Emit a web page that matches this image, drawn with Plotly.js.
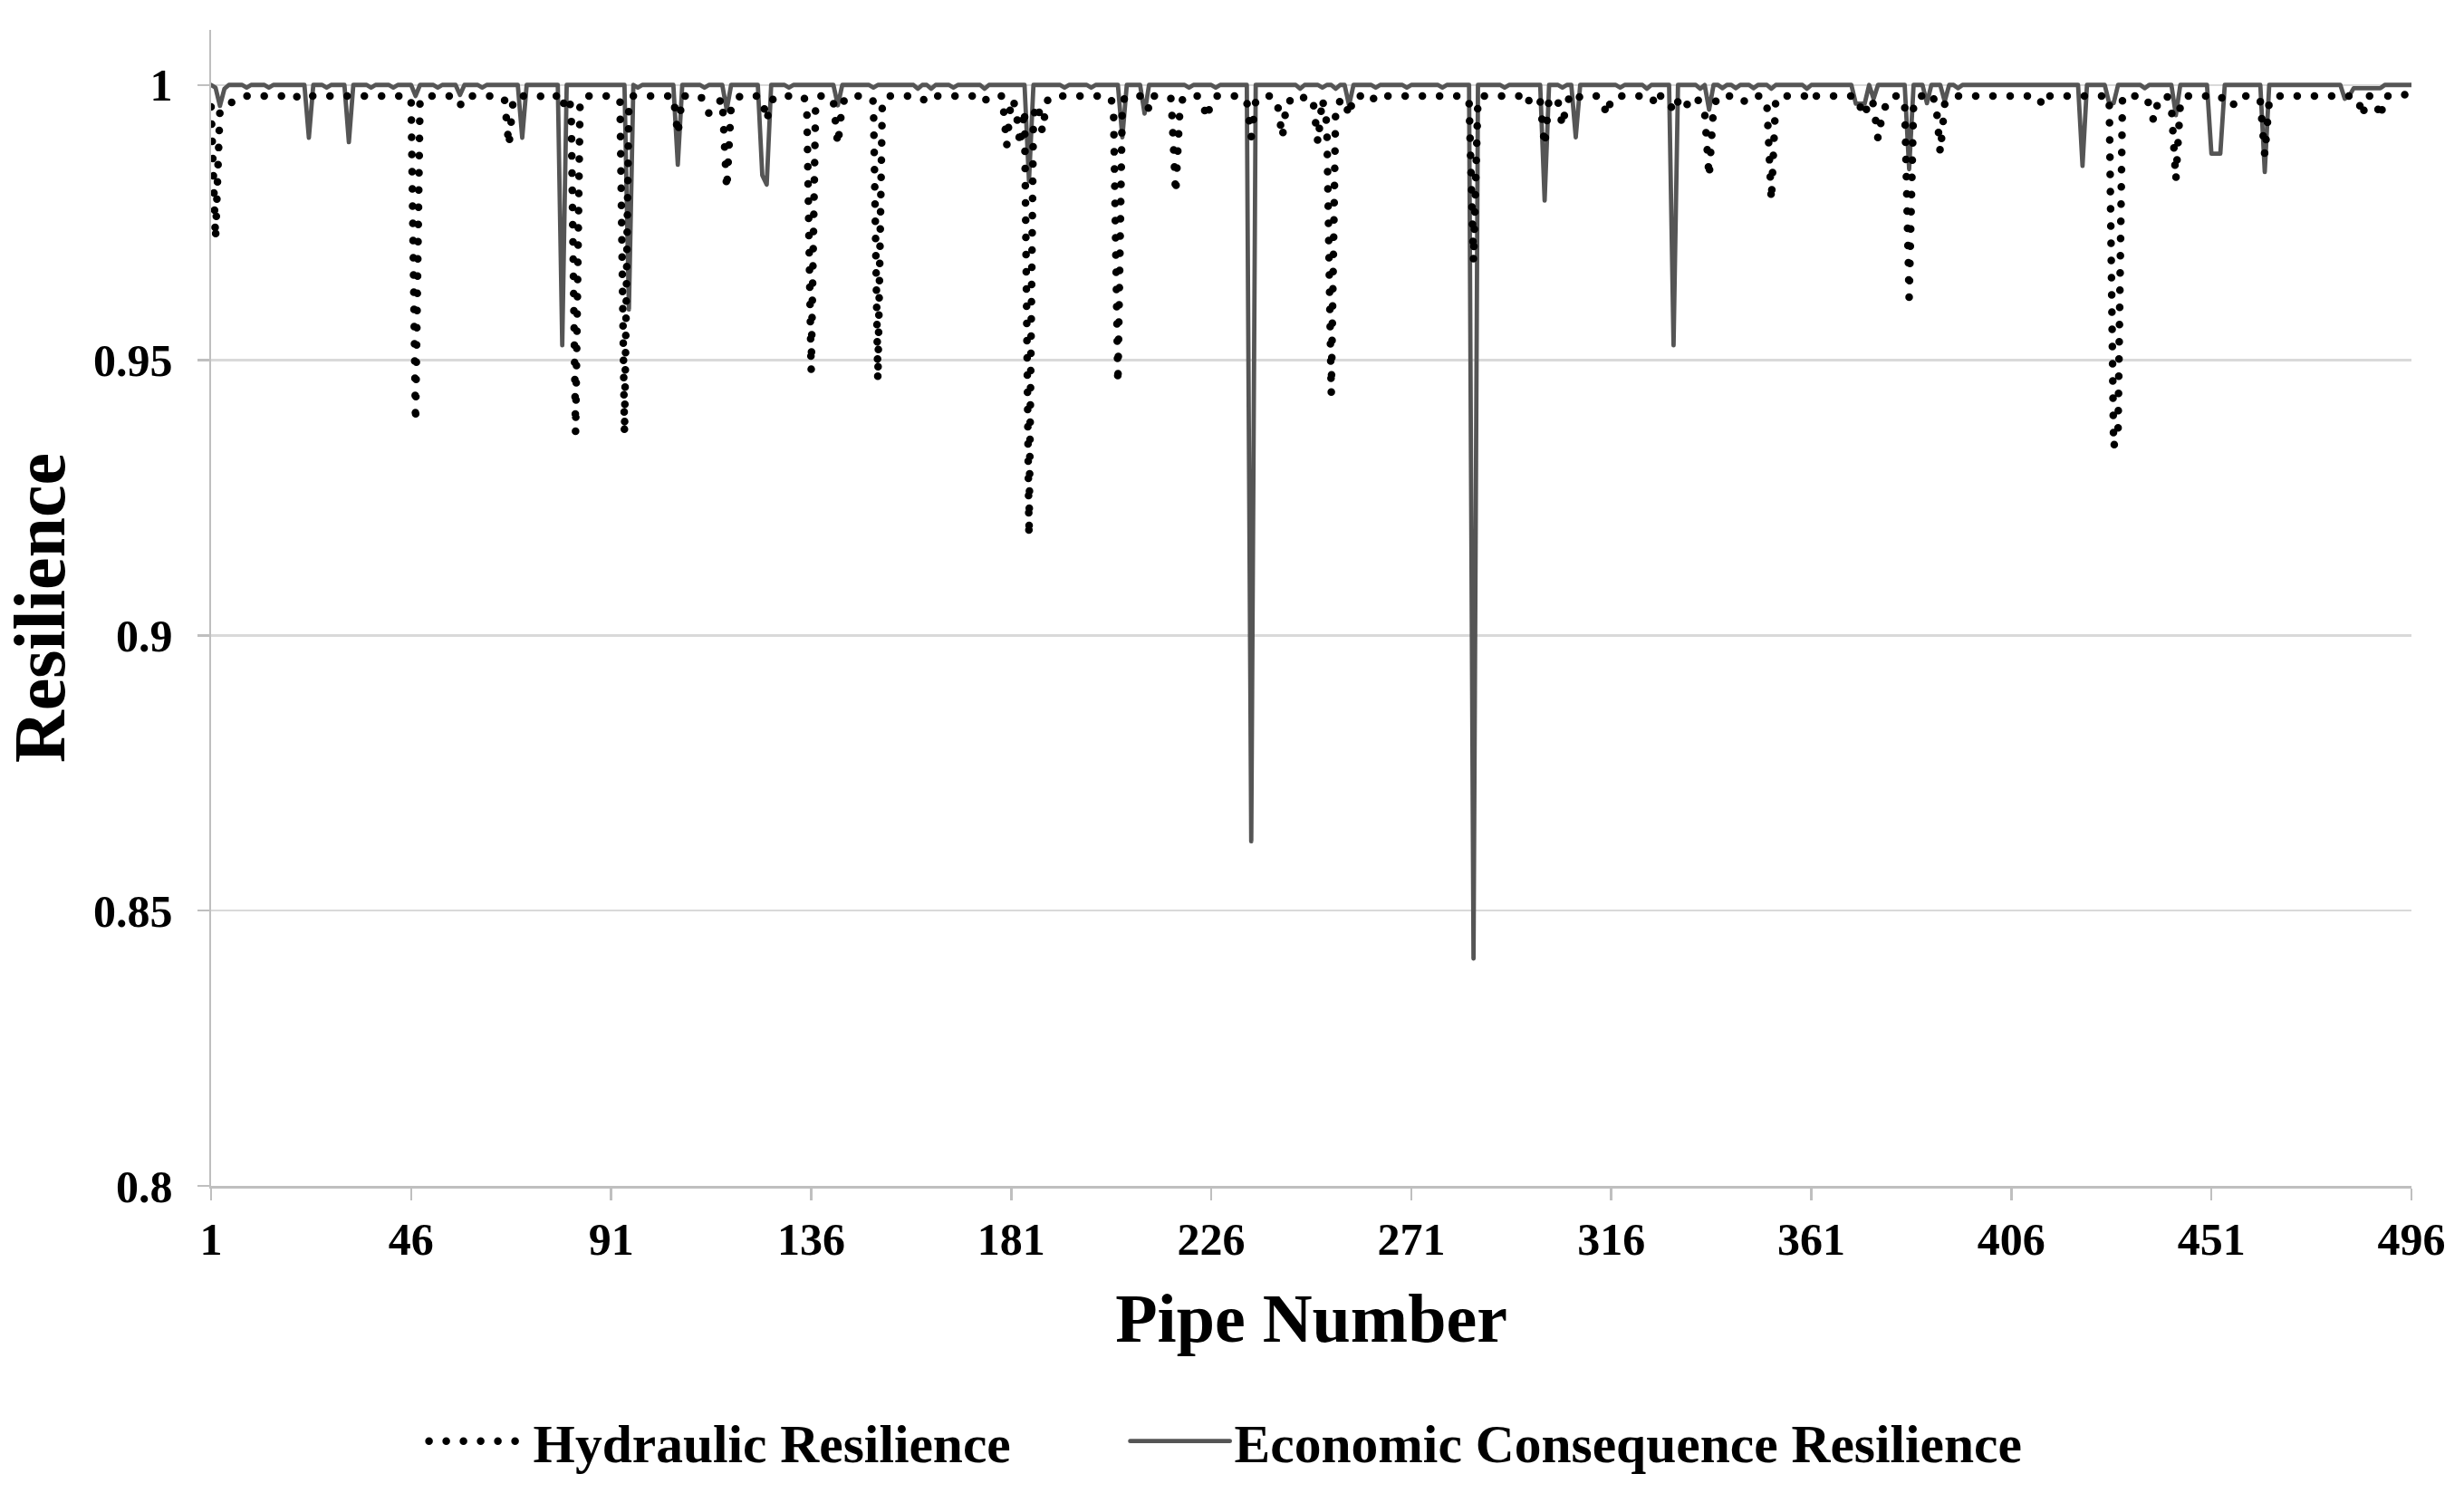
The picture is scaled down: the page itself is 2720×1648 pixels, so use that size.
<!DOCTYPE html>
<html>
<head>
<meta charset="utf-8">
<script src="https://cdn.plot.ly/plotly-3.0.1.min.js"></script>
<style>
  html, body { margin: 0; padding: 0; background: #ffffff; }
  #chart { width: 2720px; height: 1648px; }
  .scatterlayer .js-line, .legend .js-line { stroke-linecap: round; stroke-linejoin: round; }
</style>
</head>
<body>
<div id="chart"></div>
<script>
// Pipe numbers 1..496 (category positions on the x axis)
const pipeNumbers = Array.from({ length: 496 }, (_, i) => i + 1);

// Hydraulic Resilience, pipes 1..496 (10 values per row)
const hydraulicResilience = [
  0.996,0.972,0.9955,0.996,0.9965,0.997,0.9975,0.998,0.998,0.998,
  0.998,0.998,0.998,0.998,0.998,0.998,0.998,0.9975,0.998,0.998,
  0.9975,0.998,0.998,0.998,0.998,0.998,0.998,0.998,0.998,0.998,
  0.998,0.998,0.998,0.998,0.998,0.998,0.998,0.998,0.998,0.998,
  0.998,0.998,0.998,0.998,0.998,0.9975,0.9388,0.997,0.998,0.998,
  0.998,0.998,0.998,0.998,0.998,0.9975,0.9962,0.998,0.998,0.998,
  0.998,0.998,0.998,0.998,0.998,0.998,0.9975,0.989,0.9975,0.998,
  0.998,0.998,0.998,0.998,0.998,0.9975,0.998,0.998,0.998,0.996,
  0.998,0.996,0.9368,0.9967,0.998,0.998,0.998,0.998,0.998,0.998,
  0.998,0.998,0.997,0.9366,0.997,0.998,0.998,0.998,0.998,0.998,
  0.998,0.998,0.998,0.998,0.998,0.991,0.998,0.998,0.998,0.998,
  0.998,0.997,0.9948,0.9958,0.9968,0.9975,0.9811,0.9962,0.997,0.998,
  0.998,0.998,0.998,0.998,0.9975,0.9935,0.997,0.998,0.998,0.998,
  0.998,0.998,0.998,0.998,0.997,0.948,0.9965,0.998,0.998,0.998,
  0.997,0.9891,0.9965,0.998,0.998,0.998,0.998,0.998,0.998,0.997,
  0.9464,0.9965,0.998,0.998,0.998,0.998,0.998,0.998,0.998,0.998,
  0.9975,0.997,0.998,0.998,0.998,0.998,0.998,0.998,0.998,0.998,
  0.998,0.998,0.998,0.998,0.997,0.998,0.998,0.998,0.998,0.989,
  0.9975,0.9962,0.989,0.9955,0.918,0.9945,0.9965,0.9915,0.997,0.998,
  0.998,0.998,0.998,0.998,0.998,0.998,0.998,0.998,0.998,0.998,
  0.998,0.998,0.998,0.9965,0.9458,0.997,0.998,0.998,0.998,0.998,
  0.998,0.9955,0.998,0.998,0.998,0.998,0.9975,0.9803,0.9965,0.998,
  0.998,0.998,0.998,0.997,0.9939,0.997,0.998,0.998,0.998,0.998,
  0.998,0.998,0.998,0.997,0.9905,0.997,0.998,0.998,0.998,0.998,
  0.996,0.9905,0.997,0.9972,0.997,0.9967,0.998,0.998,0.9965,0.9895,
  0.9975,0.993,0.9439,0.9965,0.997,0.9975,0.9943,0.998,0.998,0.998,
  0.998,0.997,0.998,0.9975,0.998,0.998,0.998,0.998,0.998,0.998,
  0.998,0.998,0.998,0.998,0.998,0.998,0.998,0.998,0.998,0.998,
  0.998,0.998,0.998,0.997,0.968,0.9975,0.998,0.998,0.998,0.998,
  0.998,0.998,0.998,0.998,0.998,0.998,0.9965,0.998,0.998,0.997,
  0.989,0.9975,0.9967,0.997,0.9925,0.997,0.998,0.997,0.998,0.998,
  0.998,0.998,0.998,0.997,0.9945,0.9975,0.998,0.998,0.998,0.998,
  0.998,0.998,0.998,0.998,0.998,0.9962,0.998,0.998,0.997,0.995,
  0.997,0.998,0.9965,0.996,0.9975,0.997,0.995,0.9833,0.996,0.998,
  0.998,0.998,0.998,0.998,0.998,0.997,0.998,0.998,0.998,0.998,
  0.9965,0.979,0.9975,0.998,0.998,0.998,0.998,0.998,0.998,0.998,
  0.997,0.998,0.998,0.998,0.998,0.998,0.998,0.998,0.998,0.998,
  0.998,0.996,0.9943,0.9975,0.9965,0.9902,0.9948,0.9968,0.998,0.998,
  0.998,0.9965,0.9614,0.9965,0.998,0.998,0.9972,0.998,0.997,0.9877,
  0.9965,0.9975,0.998,0.998,0.998,0.998,0.998,0.998,0.998,0.998,
  0.998,0.998,0.998,0.998,0.998,0.998,0.998,0.998,0.998,0.998,
  0.998,0.998,0.9963,0.998,0.998,0.998,0.998,0.998,0.998,0.998,
  0.998,0.998,0.998,0.998,0.998,0.998,0.998,0.998,0.9342,0.9375,
  0.998,0.998,0.998,0.998,0.998,0.998,0.9965,0.9935,0.997,0.998,
  0.998,0.996,0.9828,0.9965,0.998,0.998,0.998,0.998,0.998,0.998,
  0.998,0.998,0.9975,0.998,0.998,0.9965,0.998,0.998,0.998,0.998,
  0.998,0.997,0.9873,0.997,0.998,0.998,0.998,0.998,0.998,0.998,
  0.998,0.998,0.998,0.998,0.998,0.998,0.998,0.998,0.998,0.998,
  0.998,0.998,0.998,0.9975,0.9943,0.998,0.998,0.997,0.994,0.998,
  0.998,0.998,0.998,0.998,0.9985,0.999
];

// Economic Consequence Resilience, pipes 1..496 (10 values per row)
const economicResilience = [
  1,0.9995,0.9962,0.9993,1,1,1,1,0.9995,1,
  1,1,1,0.9995,1,1,1,1,1,1,
  1,1,0.9904,1,1,1,0.9995,1,1,1,
  1,0.9896,1,1,1,1,0.9995,1,1,1,
  1,0.9995,1,1,1,1,0.998,1,1,1,
  1,0.9995,1,1,1,1,0.9982,1,1,1,
  1,0.9995,1,1,1,1,1,1,1,1,
  0.9904,1,1,1,1,1,1,1,1,0.9527,
  1,1,1,1,1,1,1,1,1,1,
  1,1,1,1,0.9592,1,0.9995,1,1,1,
  1,1,1,1,1,0.9855,1,1,1,1,
  1,0.9995,1,1,1,1,0.9955,1,1,1,
  1,1,1,1,0.9836,0.9819,1,1,1,1,
  0.9995,1,1,1,1,1,1,1,1,1,
  1,0.9963,1,1,1,1,1,1,1,0.9995,
  1,1,1,1,1,1,1,1,1,0.9993,
  1,1,0.9993,1,1,1,1,0.9995,1,1,
  1,1,1,1,0.9993,1,1,1,1,1,
  1,1,1,1,0.9825,1,1,1,1,1,
  1,1,0.9995,1,1,1,1,1,0.9995,1,
  1,1,1,1,1,0.9905,1,1,1,1,
  0.9948,1,1,1,1,1,1,1,1,1,
  0.9995,1,1,1,1,1,0.9995,1,1,1,
  1,1,1,1,0.8626,1,1,1,1,1,
  1,1,1,1,1,0.9993,1,1,1,1,
  0.9995,1,1,0.9993,1,1,0.9963,1,1,1,
  1,1,0.9995,1,1,1,1,1,1,0.9995,
  1,1,1,1,1,1,1,0.9995,1,1,
  1,1,1,1,0.8413,1,1,1,1,1,
  1,0.9995,1,1,1,1,1,1,1,1,
  0.979,1,1,1,0.9995,1,1,0.9905,1,1,
  1,1,1,1,1,1,1,0.9995,1,1,
  1,1,1,0.9993,1,1,1,1,1,0.9527,
  1,1,1,1,1,0.9993,1,0.9955,1,1,
  0.9994,1,1,0.9994,1,1,1,0.9994,1,1,
  1,0.9993,1,1,1,1,1,1,1,0.9993,
  1,1,1,1,1,1,1,1,1,1,
  0.9966,0.9966,0.9966,1,0.9975,1,1,1,1,1,
  1,1,0.9847,1,1,1,0.9967,1,1,1,
  0.997,1,1,0.9994,1,1,1,1,1,1,
  1,1,1,1,1,1,1,1,1,1,
  1,1,1,1,1,1,1,1,1,1,
  1,0.9853,1,1,1,1,1,0.9967,0.9967,1,
  1,1,1,1,1,0.9994,1,1,1,1,
  1,1,0.9945,1,1,1,1,1,1,1,
  0.9875,0.9875,0.9875,1,1,1,1,1,1,1,
  1,1,0.9842,1,1,1,1,1,1,1,
  1,1,1,1,1,1,1,1,1,1,
  0.9975,0.998,0.9994,0.9994,0.9994,0.9994,0.9994,0.9994,0.9994,1,
  1,1,1,1,1,1
];

// Axis ticks
const xTickValues = [1, 46, 91, 136, 181, 226, 271, 316, 361, 406, 451, 496];
const xTickLabels = ['1', '46', '91', '136', '181', '226', '271', '316', '361', '406', '451', '496'];
const yTickValues = [0.8, 0.85, 0.9, 0.95, 1];
const yTickLabels = ['0.8', '0.85', '0.9', '0.95', '1'];

const seriesNames = ['Hydraulic Resilience', 'Economic Consequence Resilience'];

const FONT = 'Liberation Serif, Times New Roman, Times, serif';

const traces = [
  {
    type: 'scatter',
    mode: 'lines',
    name: seriesNames[1],
    x: pipeNumbers,
    y: economicResilience,
    line: { color: '#555555', width: 4.8 }
  },
  {
    type: 'scatter',
    mode: 'lines',
    name: seriesNames[0],
    x: pipeNumbers,
    y: hydraulicResilience,
    legendwidth: 649,
    line: { color: '#000000', width: 8.5, dash: '0px,19px' }
  }
];

const layout = {
  width: 2720,
  height: 1648,
  paper_bgcolor: '#ffffff',
  plot_bgcolor: '#ffffff',
  margin: { l: 233, r: 58, t: 33, b: 337 },
  font: { family: FONT, color: '#000000', size: 50, weight: 700 },
  showlegend: true,
  legend: {
    orientation: 'h',
    traceorder: 'reversed',
    x: 0.097,
    xanchor: 'left',
    y: -0.221,
    yanchor: 'middle',
    itemwidth: 110,
    font: { family: FONT, size: 59.5, color: '#000000', weight: 700 },
    bgcolor: 'rgba(0,0,0,0)'
  },
  xaxis: {
    range: [1, 496],
    tickmode: 'array',
    tickvals: xTickValues,
    ticktext: xTickLabels,
    ticks: 'outside',
    ticklen: 13,
    tickwidth: 2.5,
    tickcolor: '#bfbfbf',
    showline: true,
    linecolor: '#bfbfbf',
    linewidth: 2.5,
    showgrid: false,
    zeroline: false,
    ticklabelstandoff: 0,
    tickfont: { family: FONT, size: 50, color: '#000000', weight: 700 },
    title: {
      text: 'Pipe Number',
      font: { family: FONT, size: 76, color: '#000000', weight: 700 },
      standoff: 34
    }
  },
  yaxis: {
    range: [0.8, 1.01],
    tickmode: 'array',
    tickvals: yTickValues,
    ticktext: yTickLabels,
    ticks: 'outside',
    ticklen: 13,
    tickwidth: 2.5,
    tickcolor: '#bfbfbf',
    showline: true,
    linecolor: '#bfbfbf',
    linewidth: 2.5,
    showgrid: true,
    gridcolor: '#d9d9d9',
    gridwidth: 2.5,
    zeroline: false,
    ticklabelstandoff: 17,
    tickfont: { family: FONT, size: 50, color: '#000000', weight: 700 },
    title: {
      text: 'Resilience',
      font: { family: FONT, size: 80, color: '#000000', weight: 700 },
      standoff: 30
    }
  }
};

Plotly.newPlot('chart', traces, layout, { staticPlot: true, displayModeBar: false });
</script>
</body>
</html>
